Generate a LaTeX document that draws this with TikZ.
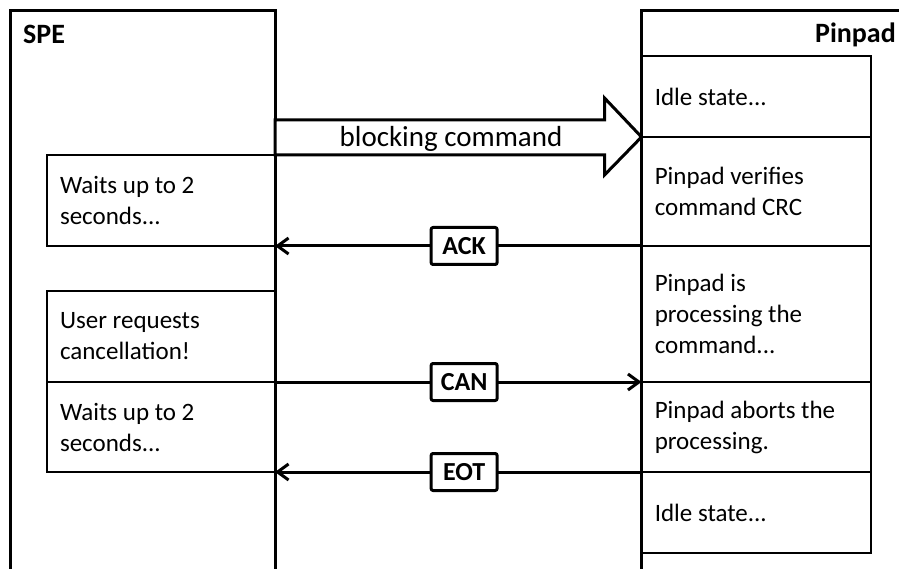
\documentclass[tikz,border=0pt]{standalone}
\usepackage{fontspec}
\setmainfont{Carlito}
\usetikzlibrary{arrows.meta,calc}
\begin{document}
\begin{tikzpicture}[x=1pt,y=-1pt,
  life/.style={draw, line width=3pt, rectangle, anchor=north west, inner sep=0pt, outer sep=0pt},
  stepbox/.style={draw, line width=1.5pt, rectangle, anchor=north west, align=flush left,
    inner xsep=13pt, inner ysep=0pt, outer sep=0pt, font=\fontsize{25}{31}\selectfont},
  msg/.style={line width=3pt, -{Straight Barb[length=11pt,width=16pt]}},
  lbl/.style={draw, fill=white, line width=3pt, rounded corners=2pt, minimum width=66pt,
    minimum height=37pt, inner sep=0pt, font=\bfseries\fontsize{26}{30}\selectfont},
  hdr/.style={font=\bfseries\fontsize{28}{31}\selectfont, inner sep=0pt}
]
\useasboundingbox (0,0) rectangle (899,569);
\fill[white] (0,0) rectangle (899,569);
\clip (0,0) rectangle (899,569);

% SPE activity boxes
\node[stepbox, text width=202pt, minimum width=228pt, minimum height=91pt] (wait1) at (47,155) {Waits up to 2\\seconds...};
\node[stepbox, text width=202pt, minimum width=228pt, minimum height=91pt] (user) at (47,291) {User requests\\cancellation!};
\node[stepbox, text width=202pt, minimum width=228pt, minimum height=90pt] (wait2) at (47,382) {Waits up to 2\\seconds...};

% Pinpad activity boxes
\node[stepbox, text width=203pt, minimum width=229.5pt, minimum height=81pt] (idle1) at (641.5,56) {Idle state...};
\node[stepbox, text width=203pt, minimum width=229.5pt, minimum height=109pt] (verify) at (641.5,137) {Pinpad verifies\\command CRC};
\node[stepbox, text width=203pt, minimum width=229.5pt, minimum height=136pt] (proc) at (641.5,246) {Pinpad is\\processing the\\command...};
\node[stepbox, text width=203pt, minimum width=229.5pt, minimum height=90pt] (abort) at (641.5,382) {Pinpad aborts the\\processing.};
\node[stepbox, text width=203pt, minimum width=229.5pt, minimum height=81pt] (idle2) at (641.5,472) {Idle state...};

% lifelines
\node[life, minimum width=265pt, minimum height=620pt] (spe) at (10,11) {};
\node[life, minimum width=270pt, minimum height=620pt] (pin) at (641.5,11) {};
\node[hdr, anchor=base west] (spet) at (23,44) {SPE};
\node[hdr, anchor=base east] (pint) at (896,43) {Pinpad};

% blocking command (block arrow)
\coordinate (tip) at (idle1.south west);
\draw[line width=3pt, fill=white, line join=miter]
  (spe.east |- 0,120) -- ($(tip)+(-37,-17)$) -- ($(tip)+(-37,-39)$) -- (tip)
  -- ($(tip)+(-37,38)$) -- ($(tip)+(-37,18)$) -- (spe.east |- 0,155) -- cycle;
\node[font=\fontsize{29}{32}\selectfont, inner sep=0pt] (blk) at (451,139) {blocking command};

% messages
\draw[msg] (verify.south west) -- (wait1.south east) node[lbl, pos=0.484] (ack) {ACK};
\draw[msg] (user.south east) -- (abort.north west) node[lbl, pos=0.516] (can) {CAN};
\draw[msg] (idle2.north west) -- (wait2.south east) node[lbl, pos=0.484] (eot) {EOT};
\end{tikzpicture}
\end{document}
